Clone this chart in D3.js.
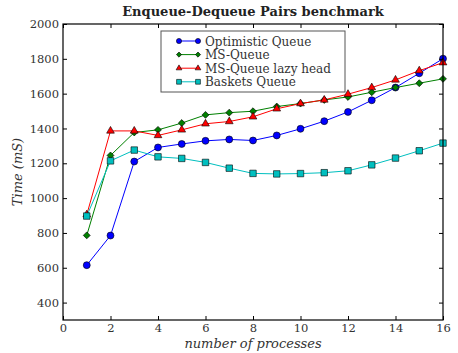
<!DOCTYPE html>
<html>
<head>
<meta charset="utf-8">
<script src="https://cdn.jsdelivr.net/npm/d3@7"></script>
<style>
  body { margin: 0; background: #fff; }
  text { font-family: "DejaVu Serif", serif; }
</style>
</head>
<body>
<script>
const w = 458;
const h = 353;

// number of processes
const procs = [1, 2, 3, 4, 5, 6, 7, 8, 9, 10, 11, 12, 13, 14, 15, 16];

// time in mS
const optimistic = [615, 785, 1210, 1291, 1311, 1329, 1337, 1331, 1360, 1398, 1442, 1495, 1562, 1635, 1717, 1801];
const msQueue    = [786, 1245, 1377, 1392, 1431, 1478, 1491, 1499, 1526, 1543, 1564, 1581, 1608, 1635, 1660, 1685];
const lazyHead   = [905, 1386, 1386, 1360, 1392, 1427, 1440, 1467, 1513, 1543, 1564, 1597, 1635, 1679, 1732, 1778];
const baskets    = [897, 1214, 1276, 1237, 1228, 1205, 1172, 1142, 1139, 1141, 1146, 1157, 1191, 1230, 1272, 1316];

const xTicks = [0, 2, 4, 6, 8, 10, 12, 14, 16];
const yTicks = [400, 600, 800, 1000, 1200, 1400, 1600, 1800, 2000];

const series = [
    {name: "Optimistic Queue", values: optimistic, color: "#0000ff", marker: "circle"},
    {name: "MS-Queue", values: msQueue, color: "#008000", marker: "diamond"},
    {name: "MS-Queue lazy head", values: lazyHead, color: "#ff0000", marker: "triangle"},
    {name: "Baskets Queue", values: baskets, color: "#00bfbf", marker: "square"}
];

const margin = {left: 63, right: 15, top: 24, bottom: 33};

const svg = d3.select("body").append("svg").attr("width", w).attr("height", h);

const x = d3.scaleLinear().domain([0, 16]).range([margin.left, w - margin.right]);
const y = d3.scaleLinear().domain([300, 2000]).range([h - margin.bottom, margin.top]);

// matplotlib-like markers; the diamond is a square turned by 45 degrees
const symbolSizes = {circle: 38, diamond: 24, triangle: 26, square: 42};
const symbolTypes = {circle: d3.symbolCircle, diamond: d3.symbolSquare, triangle: d3.symbolTriangle, square: d3.symbolSquare};
const symbol = (m, k) => d3.symbol().type(symbolTypes[m]).size(symbolSizes[m] * k)();
const turn = m => m === "diamond" ? " rotate(45)" : "";

////  Lines and markers  ////
const line = d3.line().x((d, i) => x(procs[i])).y(d => y(d));

const plot = svg.append("g");
series.forEach(s => {
    plot.append("path")
        .attr("d", line(s.values))
        .attr("fill", "none")
        .attr("stroke", s.color)
        .attr("stroke-width", 1);
});
series.forEach(s => {
    plot.selectAll(null)
        .data(s.values)
        .enter()
        .append("path")
        .attr("d", symbol(s.marker, 1))
        .attr("transform", (d, i) => `translate(${x(procs[i])},${y(d)})${turn(s.marker)}`)
        .attr("fill", s.color)
        .attr("stroke", "#000")
        .attr("stroke-width", 0.6);
});

////  Axes (ticks inward on all four sides)  ////
const tickLen = 4;
svg.append("g")
    .attr("transform", `translate(0,${y(300)})`)
    .call(d3.axisBottom(x).tickValues(xTicks).tickSizeInner(-tickLen).tickSizeOuter(0).tickPadding(4).tickFormat(d3.format("d")))
    .call(g => g.select(".domain").remove());
svg.append("g")
    .attr("transform", `translate(0,${y(2000)})`)
    .call(d3.axisTop(x).tickValues(xTicks).tickSizeInner(-tickLen).tickSizeOuter(0).tickFormat(""))
    .call(g => g.select(".domain").remove());
svg.append("g")
    .attr("transform", `translate(${x(0)},0)`)
    .call(d3.axisLeft(y).tickValues(yTicks).tickSizeInner(-tickLen).tickSizeOuter(0).tickPadding(4).tickFormat(d3.format("d")))
    .call(g => g.select(".domain").remove());
svg.append("g")
    .attr("transform", `translate(${x(16)},0)`)
    .call(d3.axisRight(y).tickValues(yTicks).tickSizeInner(-tickLen).tickSizeOuter(0).tickFormat(""))
    .call(g => g.select(".domain").remove());

svg.selectAll(".tick text")
    .attr("font-family", "DejaVu Serif, serif")
    .attr("font-size", "11.5px")
    .attr("fill", "#333");
svg.selectAll(".tick line").attr("stroke", "#000");

svg.append("rect")
    .attr("x", x(0))
    .attr("y", y(2000))
    .attr("width", x(16) - x(0))
    .attr("height", y(300) - y(2000))
    .attr("fill", "none")
    .attr("stroke", "#000")
    .attr("stroke-width", 1.2);

////  Labels  ////
svg.append("text")
    .attr("x", (x(0) + x(16)) / 2)
    .attr("y", 16)
    .attr("text-anchor", "middle")
    .attr("font-size", "13px")
    .attr("font-weight", "bold")
    .attr("fill", "#222")
    .text("Enqueue-Dequeue Pairs benchmark");

svg.append("text")
    .attr("x", (x(0) + x(16)) / 2)
    .attr("y", 348)
    .attr("text-anchor", "middle")
    .attr("font-size", "13px")
    .attr("font-style", "italic")
    .attr("fill", "#333")
    .text("number of processes");

svg.append("text")
    .attr("transform", `translate(22,${(y(300) + y(2000)) / 2}) rotate(-90)`)
    .attr("text-anchor", "middle")
    .attr("font-size", "13px")
    .attr("font-style", "italic")
    .attr("fill", "#333")
    .text("Time (mS)");

////  Legend  ////
const legend = svg.append("g").attr("transform", "translate(161,31)");
legend.append("rect")
    .attr("width", 184)
    .attr("height", 61)
    .attr("fill", "#fff")
    .attr("stroke", "#555")
    .attr("stroke-width", 1);

const entry = legend.selectAll("g.entry")
    .data(series)
    .enter()
    .append("g")
    .attr("class", "entry")
    .attr("transform", (d, i) => `translate(0,${10 + i * 13.6})`);
entry.append("line")
    .attr("x1", 18).attr("x2", 37)
    .attr("stroke", d => d.color)
    .attr("stroke-width", 1);
entry.each(function (d) {
    const g = d3.select(this);
    [18, 37].forEach(px => {
        g.append("path")
            .attr("d", symbol(d.marker, 0.55))
            .attr("transform", `translate(${px},0)${turn(d.marker)}`)
            .attr("fill", d.color)
            .attr("stroke", "#000")
            .attr("stroke-width", 0.6);
    });
});
entry.append("text")
    .attr("x", 44)
    .attr("y", 4.5)
    .attr("font-size", "12px")
    .attr("fill", "#333")
    .text(d => d.name);
</script>
</body>
</html>
